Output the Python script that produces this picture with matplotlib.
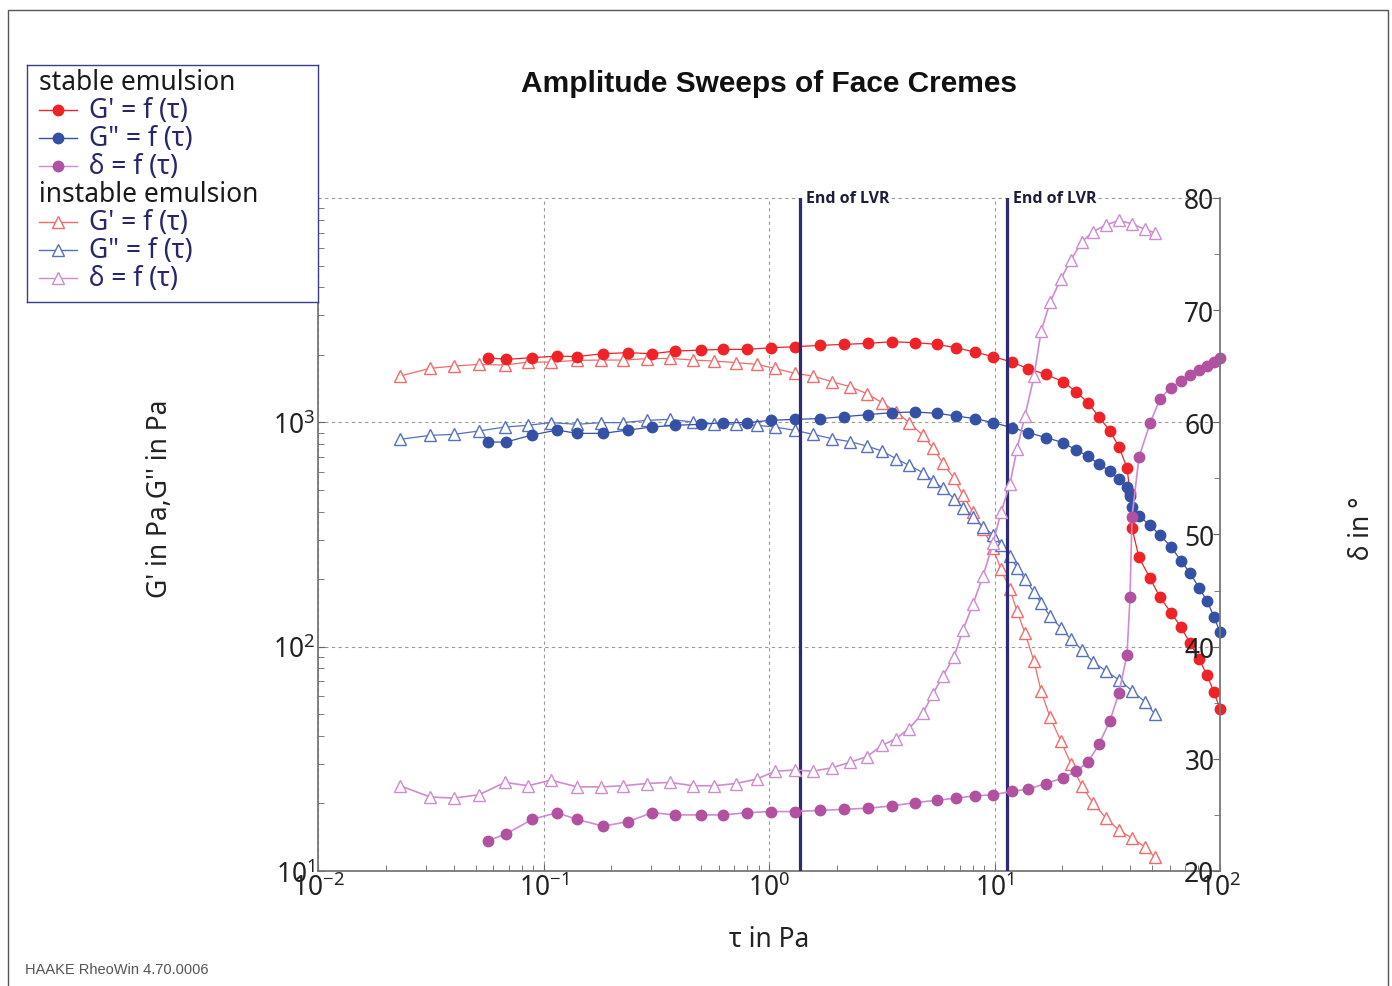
import matplotlib
matplotlib.use('Agg')
import matplotlib.pyplot as plt
from matplotlib.patches import Rectangle
from matplotlib.ticker import LogLocator, LogFormatterMathtext, NullFormatter, MultipleLocator

plt.rcParams['font.family'] = ['Noto Sans', 'DejaVu Sans']
plt.rcParams['mathtext.fontset'] = 'custom'
plt.rcParams['mathtext.rm'] = 'Noto Sans'
plt.rcParams['mathtext.it'] = 'Noto Sans:italic'
plt.rcParams['mathtext.bf'] = 'Noto Sans:bold'

# stable emulsion
tau_s = [0.0567, 0.0682, 0.0889, 0.1148, 0.1408, 0.1836, 0.2369, 0.3029, 0.3829, 0.4994,
         0.6252, 0.799, 1.021, 1.304, 1.684, 2.150, 2.748, 3.512, 4.441, 5.559,
         6.751, 8.195, 9.847, 11.96, 14.08, 16.92, 20.13, 22.98, 25.98, 29.06,
         32.52, 35.65, 38.70, 39.90, 40.73, 43.73, 48.93, 54.18, 60.63, 67.17,
         73.62, 80.72, 87.58, 94.06, 100.0]
g1_s = [1942, 1908, 1942, 1974, 1963, 2023, 2044, 2023, 2078, 2099,
        2114, 2114, 2151, 2173, 2203, 2226, 2249, 2288, 2265, 2226,
        2151, 2056, 1963, 1856, 1735, 1636, 1518, 1370, 1224, 1056,
        915, 776, 628, 483, 337, 250, 202, 166, 142, 122,
        104, 88, 74.6, 62.7, 52.7]
g2_s = [817, 817, 878, 924, 893, 893, 924, 953, 970, 980,
        997, 997, 1021, 1031, 1039, 1060, 1082, 1105, 1112, 1097,
        1067, 1039, 997, 947, 900, 855, 812, 753, 708, 650,
        607, 557, 517, 470, 421, 382, 348, 314, 279, 241,
        213, 183, 160, 136, 116]
delta_s = [22.7, 23.3, 24.6, 25.2, 24.6, 24.0, 24.4, 25.2, 25.0, 25.0,
           25.0, 25.2, 25.3, 25.3, 25.4, 25.5, 25.6, 25.8, 26.1, 26.3,
           26.5, 26.7, 26.8, 27.1, 27.3, 27.8, 28.3, 28.9, 29.7, 31.3,
           33.4, 35.9, 39.3, 44.4, 51.6, 56.9, 59.9, 62.1, 63.1, 63.7,
           64.2, 64.7, 65.0, 65.4, 65.7]

# instable emulsion
tau_i = [0.0231, 0.03139, 0.0401, 0.05176, 0.06751, 0.08537, 0.108, 0.1408, 0.1799, 0.2252,
         0.2877, 0.3639, 0.4603, 0.5704, 0.7141, 0.8845, 1.063, 1.304, 1.567, 1.903,
         2.287, 2.720, 3.171, 3.658, 4.177, 4.818, 5.338, 5.910, 6.614, 7.251,
         8.031, 8.892, 9.847, 10.69, 11.71, 12.58, 13.65, 14.97, 16.08, 17.63,
         19.72, 21.84, 24.43, 27.34, 31.22, 35.65, 40.73, 46.49, 51.49]
g1_i = [1608, 1740, 1782, 1813, 1800, 1856, 1856, 1889, 1895, 1895,
        1922, 1928, 1895, 1876, 1845, 1813, 1740, 1653, 1608, 1518,
        1442, 1342, 1224, 1116, 997, 875, 766, 657, 563, 473,
        397, 334, 275, 221, 180, 144, 115, 86.2, 63.4, 48.5,
        37.9, 30.0, 23.9, 20.1, 17.2, 15.2, 14.0, 12.8, 11.5]
g2_i = [840, 875, 884, 915, 953, 970, 997, 980, 997, 997,
        1021, 1031, 1003, 987, 980, 970, 953, 921, 884, 846,
        820, 784, 745, 689, 643, 597, 548, 508, 457, 417,
        380, 343, 315, 283, 254, 225, 200, 175, 156, 137,
        121, 108, 96.8, 85.6, 78.0, 71.1, 63.6, 56.8, 50.0]
delta_i = [27.6, 26.6, 26.5, 26.8, 27.9, 27.6, 28.1, 27.5, 27.5, 27.6,
           27.8, 27.9, 27.6, 27.6, 27.8, 28.2, 28.9, 29.0, 28.9, 29.2,
           29.7, 30.2, 31.2, 31.8, 32.7, 34.1, 35.8, 37.4, 39.1, 41.5,
           43.8, 46.3, 49.2, 52.0, 54.5, 57.6, 60.6, 64.1, 68.1, 70.7,
           72.8, 74.5, 76.1, 77.0, 77.6, 78.0, 77.7, 77.2, 76.9]

lvr = [1.372, 11.36]

red, blue, purple = '#ee2227', '#3551a6', '#b2519f'
red_i, blue_i, purple_i = '#f36a6a', '#5570bd', '#cf8bcf'

W, H = 1392, 987
fig = plt.figure(figsize=(W / 100, H / 100), dpi=100)
fig.patches.append(Rectangle((8 / W, -0.01), (1388 - 8) / W, 1 - 11 / H + 0.01,
                             transform=fig.transFigure, fill=False, ec='#555555', lw=1))

ax = fig.add_axes([318 / W, 1 - 872 / H, (1220 - 318) / W, (872 - 199) / H])
ax.set_xscale('log')
ax.set_yscale('log')
ax.set_xlim(1e-2, 1e2)
ax.set_ylim(1e1, 1e4)
ax2 = ax.twinx()
ax2.set_ylim(20, 80)

ax.plot(tau_s, g1_s, '-o', color=red, lw=0.9, ms=7.5, mec=red, clip_on=False, zorder=4)
ax.plot(tau_s, g2_s, '-o', color=blue, lw=0.9, ms=7.5, mec=blue, clip_on=False, zorder=4)
ax.plot(tau_i, g1_i, '-^', color=red_i, lw=0.9, ms=8.5, mfc='white', mec=red_i, mew=1, zorder=3)
ax.plot(tau_i, g2_i, '-^', color=blue_i, lw=0.9, ms=8.5, mfc='white', mec=blue_i, mew=1, zorder=3)
ax2.plot(tau_s, delta_s, '-o', color=purple_i, lw=1.2, ms=7.5, mfc=purple, mec=purple, clip_on=False)
ax2.plot(tau_i, delta_i, '-^', color=purple_i, lw=1.2, ms=8.5, mfc='white', mec=purple_i, mew=1)

ax.grid(True, which='major', ls=(0, (3, 3)), color='#999999', lw=0.8)
ax.axhline(1e4, ls=(0, (3, 3)), color='#999999', lw=0.8, clip_on=False)

for x in lvr:
    ax.axvline(x, color='#2b2b78', lw=2.3, zorder=5)
    ax.annotate('End of LVR', xy=(x, 1e4), xytext=(4, 0), textcoords='offset points',
                ha='left', va='center', fontsize=11.5, fontweight='bold', color='#1c1c3c',
                family=['Open Sans', 'DejaVu Sans'],
                bbox=dict(fc='white', ec='none', pad=0.3), zorder=6, annotation_clip=False)

ax.xaxis.set_major_locator(LogLocator(base=10))
ax.xaxis.set_major_formatter(LogFormatterMathtext())
ax.xaxis.set_minor_locator(LogLocator(base=10, subs=range(2, 10)))
ax.xaxis.set_minor_formatter(NullFormatter())
ax.yaxis.set_major_locator(LogLocator(base=10))
ax.yaxis.set_major_formatter(LogFormatterMathtext())
ax.yaxis.set_minor_locator(LogLocator(base=10, subs=range(2, 10)))
ax.yaxis.set_minor_formatter(NullFormatter())
ax.tick_params(axis='both', which='both', direction='in', colors='#666666',
               labelcolor='#222222', labelsize=19, pad=2)
ax.tick_params(which='major', length=5)
ax.tick_params(which='minor', length=4)
ax.set_yticks([1e1, 1e2, 1e3])

ax2.set_yticks([20, 30, 40, 50, 60, 70, 80])
ax2.yaxis.set_minor_locator(MultipleLocator(5))
ax2.tick_params(axis='y', which='both', direction='in', colors='#666666',
                labelcolor='#222222', labelsize=19, pad=-4)
ax2.tick_params(which='major', length=5)
ax2.tick_params(which='minor', length=4)
for lbl in ax2.get_yticklabels():
    lbl.set_horizontalalignment('right')

for a in (ax, ax2):
    a.spines['top'].set_visible(False)
ax.spines['right'].set_visible(False)
ax2.spines['left'].set_visible(False)
ax2.spines['bottom'].set_visible(False)
for s in ('left', 'bottom'):
    ax.spines[s].set_color('#777777')
    ax.spines[s].set_linewidth(1.3)
ax2.spines['right'].set_color('#777777')
ax2.spines['right'].set_linewidth(1.3)

fig.text(769 / W, 1 - 84 / H, 'Amplitude Sweeps of Face Cremes', ha='center', va='center',
         fontsize=21.5, fontweight='bold', family='Liberation Sans', color='#111111')
fig.text(160 / W, 1 - 499 / H, "G' in Pa,G'' in Pa", rotation=90, ha='center', va='center',
         fontsize=19, color='#222222')
fig.text(769 / W, 1 - 940 / H, 'τ in Pa', ha='center', va='center', fontsize=19, color='#222222')
fig.text(1362 / W, 1 - 528 / H, 'δ in °', rotation=90, ha='center', va='center',
         fontsize=19, color='#222222')
fig.text(25 / W, 1 - 970 / H, 'HAAKE RheoWin 4.70.0006', ha='left', va='center',
         fontsize=10.5, family='Liberation Sans', color='#555555')

# legend box
leg = fig.add_axes([27 / W, 1 - 303 / H, 291 / W, 237 / H])
leg.set_xlim(0, 291)
leg.set_ylim(237, 0)
leg.set_xticks([])
leg.set_yticks([])
for s in leg.spines.values():
    s.set_color('#3c3c8c')
    s.set_linewidth(1)
rows = [
    ('stable emulsion', None, None, None),
    ("G' = f (τ)", red, red, 'o'),
    ('G" = f (τ)', blue, blue, 'o'),
    ('δ = f (τ)', purple_i, purple, 'o'),
    ('instable emulsion', None, None, None),
    ("G' = f (τ)", red_i, 'white', '^'),
    ('G" = f (τ)', blue_i, 'white', '^'),
    ('δ = f (τ)', purple_i, 'white', '^'),
]
for i, (label, lc, fc, mk) in enumerate(rows):
    y = 17 + 28 * i
    if mk is None:
        leg.text(12, y, label, ha='left', va='center', fontsize=19, color='#1a1a1a')
    else:
        leg.plot([12, 50], [y, y], color=lc, lw=1)
        leg.plot([31], [y], marker=mk, ms=8 if mk == '^' else 7.5, mfc=fc,
                 mec=lc if mk == '^' else fc, mew=1)
        leg.text(62, y, label, ha='left', va='center', fontsize=19, color='#26266e')

fig.savefig('out.png', dpi=100)
